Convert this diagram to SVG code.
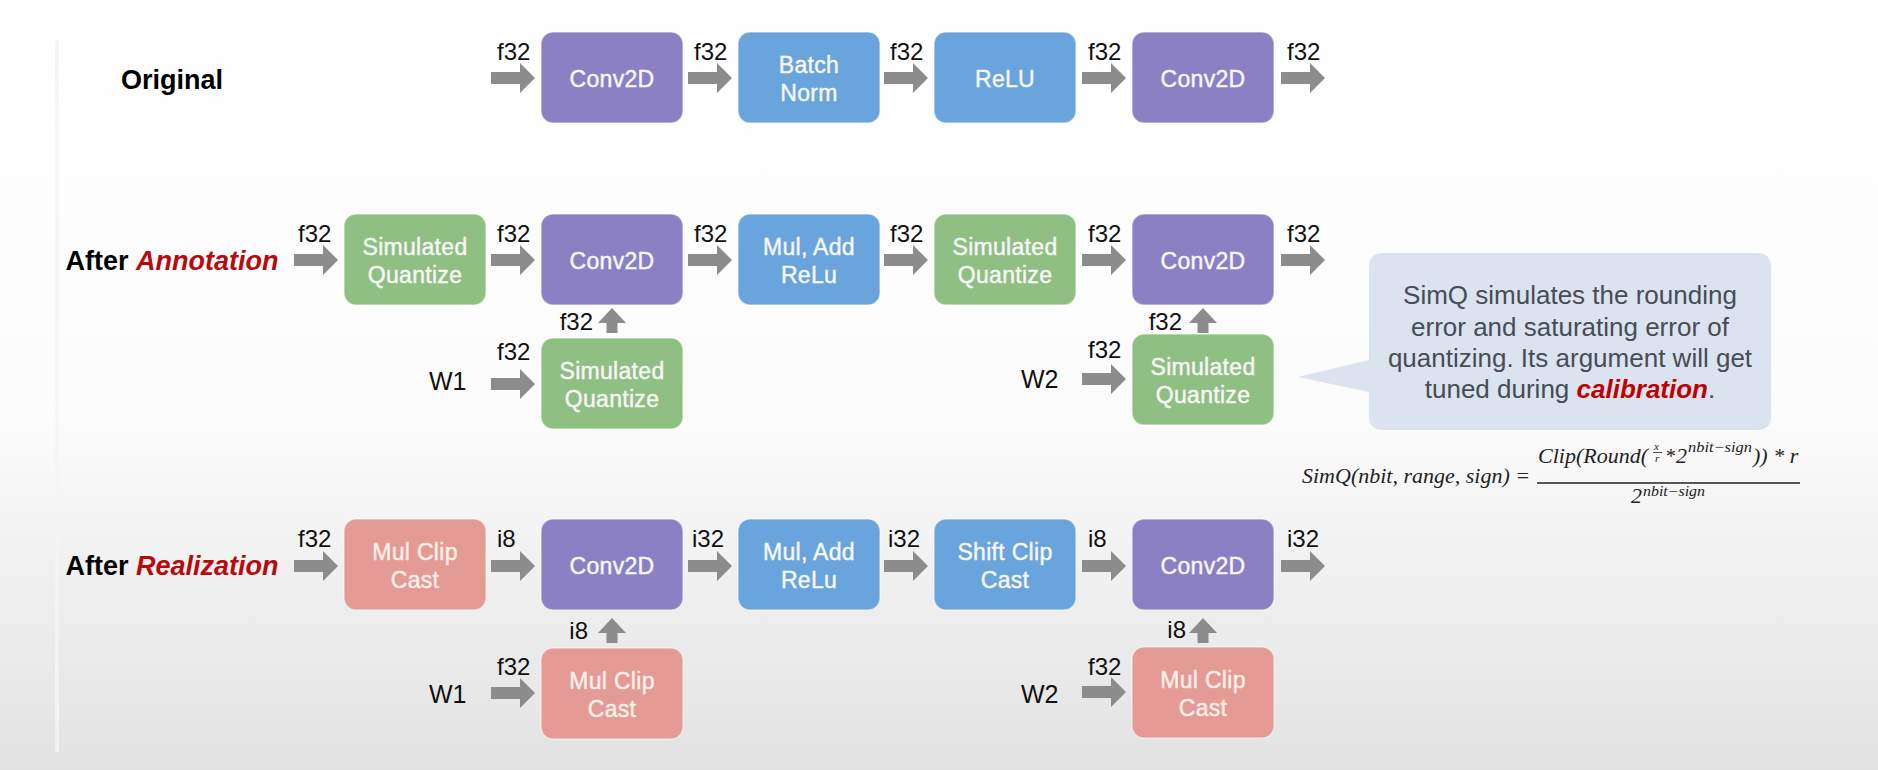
<svg xmlns="http://www.w3.org/2000/svg" width="1878" height="770" viewBox="0 0 1878 770">
<defs>
<linearGradient id="bg" x1="0" y1="0" x2="0" y2="1">
<stop offset="0" stop-color="#ffffff"/>
<stop offset="0.55" stop-color="#fbfbfb"/>
<stop offset="1" stop-color="#e2e2e2"/>
</linearGradient>
<path id="ha" d="M0,-6 H29 V-15 L44,0 L29,15 V6 H0 Z"/>
<path id="ua" d="M0,0 L14,15 H5.5 V25 H-5.5 V15 H-14 Z"/>
<style>
.box{stroke:#ffffff;stroke-opacity:0.5;stroke-width:1.5}
.purple{fill:#8b80c3}
.blue{fill:#69a4dc}
.green{fill:#8fbf82}
.pink{fill:#e49a95}
.bt{font-family:"Liberation Sans",Arial,sans-serif;font-size:23px;fill:#f6f6f6;stroke:#f6f6f6;stroke-width:0.45px;text-anchor:middle;letter-spacing:0.3px}
.pt{fill:#fcefe9;stroke:#fcefe9}
.lbl{font-family:"Liberation Sans",Arial,sans-serif;font-size:24px;fill:#111111}
.row{font-family:"Liberation Sans",Arial,sans-serif;font-size:27px;font-weight:bold;fill:#000000;text-anchor:middle}
.red{fill:#b8090d;font-style:italic}
.arr{fill:#8c8c8c}
.call{font-family:"Liberation Sans",Arial,sans-serif;font-size:26px;fill:#474c58;text-anchor:middle}
.math{font-family:"Liberation Serif","Times New Roman",serif;font-style:italic;fill:#222222}
</style>
</defs>
<rect x="0" y="0" width="1878" height="770" fill="url(#bg)"/>
<line x1="57" y1="40" x2="57" y2="752" stroke="#f5f5f5" stroke-width="4" opacity="0.8"/>

<!-- row labels -->
<text class="row" x="172" y="89">Original</text>
<text class="row" x="172" y="270">After <tspan class="red">Annotation</tspan></text>
<text class="row" x="172" y="575">After <tspan class="red">Realization</tspan></text>

<!-- Row 1 nodes -->
<g id="r1-conv1"><rect class="box purple" x="541" y="32" width="142" height="91" rx="12"/><text class="bt" x="612" y="87">Conv2D</text></g>
<g id="r1-bn"><rect class="box blue" x="738" y="32" width="142" height="91" rx="12"/><text class="bt" x="809" y="73">Batch</text><text class="bt" x="809" y="101">Norm</text></g>
<g id="r1-relu"><rect class="box blue" x="934" y="32" width="142" height="91" rx="12"/><text class="bt" x="1005" y="87">ReLU</text></g>
<g id="r1-conv2"><rect class="box purple" x="1132" y="32" width="142" height="91" rx="12"/><text class="bt" x="1203" y="87">Conv2D</text></g>

<!-- Row 2 nodes -->
<g id="r2-simq1"><rect class="box green" x="344" y="214" width="142" height="91" rx="12"/><text class="bt" x="415" y="255">Simulated</text><text class="bt" x="415" y="283">Quantize</text></g>
<g id="r2-conv1"><rect class="box purple" x="541" y="214" width="142" height="91" rx="12"/><text class="bt" x="612" y="269">Conv2D</text></g>
<g id="r2-muladd"><rect class="box blue" x="738" y="214" width="142" height="91" rx="12"/><text class="bt" x="809" y="255">Mul, Add</text><text class="bt" x="809" y="283">ReLu</text></g>
<g id="r2-simq2"><rect class="box green" x="934" y="214" width="142" height="91" rx="12"/><text class="bt" x="1005" y="255">Simulated</text><text class="bt" x="1005" y="283">Quantize</text></g>
<g id="r2-conv2"><rect class="box purple" x="1132" y="214" width="142" height="91" rx="12"/><text class="bt" x="1203" y="269">Conv2D</text></g>
<g id="r2-w1simq"><rect class="box green" x="541" y="338" width="142" height="91" rx="12"/><text class="bt" x="612" y="379">Simulated</text><text class="bt" x="612" y="407">Quantize</text></g>
<g id="r2-w2simq"><rect class="box green" x="1132" y="334" width="142" height="91" rx="12"/><text class="bt" x="1203" y="375">Simulated</text><text class="bt" x="1203" y="403">Quantize</text></g>
<g id="r2-w1"><text class="lbl" x="429" y="390" style="font-size:25px">W1</text></g>
<g id="r2-w2"><text class="lbl" x="1021" y="388" style="font-size:25px">W2</text></g>

<!-- Row 3 nodes -->
<g id="r3-mcc1"><rect class="box pink" x="344" y="519" width="142" height="91" rx="12"/><text class="bt pt" x="415" y="560">Mul Clip</text><text class="bt pt" x="415" y="588">Cast</text></g>
<g id="r3-conv1"><rect class="box purple" x="541" y="519" width="142" height="91" rx="12"/><text class="bt" x="612" y="574">Conv2D</text></g>
<g id="r3-muladd"><rect class="box blue" x="738" y="519" width="142" height="91" rx="12"/><text class="bt" x="809" y="560">Mul, Add</text><text class="bt" x="809" y="588">ReLu</text></g>
<g id="r3-shift"><rect class="box blue" x="934" y="519" width="142" height="91" rx="12"/><text class="bt" x="1005" y="560">Shift Clip</text><text class="bt" x="1005" y="588">Cast</text></g>
<g id="r3-conv2"><rect class="box purple" x="1132" y="519" width="142" height="91" rx="12"/><text class="bt" x="1203" y="574">Conv2D</text></g>
<g id="r3-w1mcc"><rect class="box pink" x="541" y="648" width="142" height="91" rx="12"/><text class="bt pt" x="612" y="689">Mul Clip</text><text class="bt pt" x="612" y="717">Cast</text></g>
<g id="r3-w2mcc"><rect class="box pink" x="1132" y="647" width="142" height="91" rx="12"/><text class="bt pt" x="1203" y="688">Mul Clip</text><text class="bt pt" x="1203" y="716">Cast</text></g>
<g id="r3-w1"><text class="lbl" x="429" y="703" style="font-size:25px">W1</text></g>
<g id="r3-w2"><text class="lbl" x="1021" y="703" style="font-size:25px">W2</text></g>

<!-- connectors -->
<g id="connectors" class="arr">
<use href="#ha" x="491" y="78"/><use href="#ha" x="688" y="78"/><use href="#ha" x="884" y="78"/><use href="#ha" x="1082" y="78"/><use href="#ha" x="1281" y="78"/>
<use href="#ha" x="294" y="260"/><use href="#ha" x="491" y="260"/><use href="#ha" x="688" y="260"/><use href="#ha" x="884" y="260"/><use href="#ha" x="1082" y="260"/><use href="#ha" x="1281" y="260"/>
<use href="#ha" x="491" y="384"/><use href="#ha" x="1082" y="379"/>
<use href="#ua" x="612" y="308"/><use href="#ua" x="1203" y="308"/>
<use href="#ha" x="294" y="566"/><use href="#ha" x="491" y="566"/><use href="#ha" x="688" y="566"/><use href="#ha" x="884" y="566"/><use href="#ha" x="1082" y="566"/><use href="#ha" x="1281" y="566"/>
<use href="#ha" x="491" y="693"/><use href="#ha" x="1082" y="692"/>
<use href="#ua" x="612" y="618"/><use href="#ua" x="1203" y="618"/>
</g>
<g id="connector-labels" class="lbl">
<text x="497" y="60">f32</text><text x="694" y="60">f32</text><text x="890" y="60">f32</text><text x="1088" y="60">f32</text><text x="1287" y="60">f32</text>
<text x="298" y="242">f32</text><text x="497" y="242">f32</text><text x="694" y="242">f32</text><text x="890" y="242">f32</text><text x="1088" y="242">f32</text><text x="1287" y="242">f32</text>
<text x="497" y="360">f32</text><text x="1088" y="358">f32</text>
<text x="593" y="330" text-anchor="end">f32</text><text x="1182" y="330" text-anchor="end">f32</text>
<text x="298" y="547">f32</text><text x="497" y="547">i8</text><text x="692" y="547">i32</text><text x="888" y="547">i32</text><text x="1088" y="547">i8</text><text x="1287" y="547">i32</text>
<text x="497" y="675">f32</text><text x="1088" y="675">f32</text>
<text x="588" y="639" text-anchor="end">i8</text><text x="1186" y="638" text-anchor="end">i8</text>
</g>

<!-- callout -->
<g id="callout">
<path d="M1383,253 H1757 Q1771,253 1771,267 V416 Q1771,430 1757,430 H1383 Q1369,430 1369,416 V392 L1298,377 L1369,360 V267 Q1369,253 1383,253 Z" fill="#dbe3ef"/>
<text class="call" x="1570" y="304">SimQ simulates the rounding</text>
<text class="call" x="1570" y="336">error and saturating error of</text>
<text class="call" x="1570" y="367">quantizing. Its argument will get</text>
<text class="call" x="1570" y="398">tuned during <tspan fill="#c00000" font-weight="bold" font-style="italic">calibration</tspan>.</text>
</g>

<!-- formula -->
<g id="formula" class="math">
<text x="1302" y="483" font-size="22">SimQ(nbit, range, sign) =</text>
<line x1="1537" y1="483" x2="1800" y2="483" stroke="#222222" stroke-width="1.5"/>
<text x="1538" y="463" font-size="22">Clip(Round(</text>
<text x="1654" y="450" font-size="11">x</text>
<line x1="1653" y1="452.5" x2="1662" y2="452.5" stroke="#222222" stroke-width="0.8"/>
<text x="1655" y="462" font-size="11">r</text>
<text x="1665" y="463" font-size="20">*</text>
<text x="1676" y="463" font-size="22">2</text>
<text x="1688" y="452" font-size="15" textLength="64" lengthAdjust="spacingAndGlyphs">nbit−sign</text>
<text x="1753" y="463" font-size="22">)) * r</text>
<text x="1631" y="503" font-size="22">2</text>
<text x="1643" y="496" font-size="14" textLength="62" lengthAdjust="spacingAndGlyphs">nbit−sign</text>
</g>
</svg>
